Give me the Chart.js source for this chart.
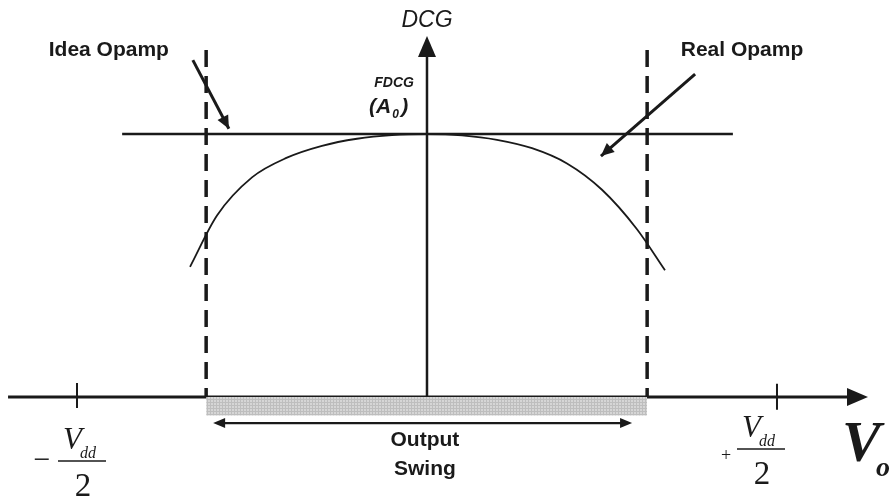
<!DOCTYPE html>
<html><head><meta charset="utf-8">
<script src="https://cdn.jsdelivr.net/npm/chart.js@4/dist/chart.umd.min.js"></script>
<style>html,body{margin:0;padding:0;background:#fff;overflow:hidden}canvas{display:block}</style>
</head><body>
<canvas id="c" width="890" height="503"></canvas>
<script>
// ---- data (x in units of Vdd/2, y in units of A0) ----
const curveX = [-0.677,-0.6,-0.5,-0.4,-0.3,-0.2,-0.1,0,0.1,0.2,0.3,0.4,0.5,0.6,0.68];
const curveY = [0.495,0.690,0.835,0.910,0.955,0.982,0.996,1,0.995,0.978,0.946,0.888,0.788,0.638,0.482];
const idealGain = 1;
const idealSpan = [-0.871, 0.874];
const swingEdges = [-0.631, 0.629];
const supplyTicks = [-1, 1];
const tickLabels = ['−', '+'];
const xAxisSpan = [-1.197, 1.26];
const yAxisTop = 1.373;
const dashTop = 1.319;
const bandDepth = -0.07;
const swingArrowY = -0.099;
const swingArrowSpan = [-0.611, 0.586];
const callouts = [
  {text:'Idea Opamp', label:[-0.909,1.318], from:[-0.669,1.281], to:[-0.566,1.020]},
  {text:'Real Opamp', label:[0.90,1.318],  from:[0.766,1.228],  to:[0.497,0.916]}
];

const INK = '#1a1a1a';
const pts = (xs, ys) => xs.map((x,i)=>({x, y: ys[i]}));
const seg = (x1,y1,x2,y2)=>[{x:x1,y:y1},{x:x2,y:y2}];
const base = {pointRadius:0, borderColor:INK, fill:false, showLine:true, tension:0};

function bandPattern(){
  const c=document.createElement('canvas'); c.width=3; c.height=3;
  const g=c.getContext('2d');
  g.fillStyle='#d6d6d6'; g.fillRect(0,0,3,3);
  g.fillStyle='#bebebe'; g.fillRect(0,0,3,1); g.fillRect(0,0,1,3);
  return g.createPattern(c,'repeat');
}

const datasets = [
  {...base, data: seg(swingEdges[0], bandDepth, swingEdges[1], bandDepth), borderWidth:0, fill:{value:0}, backgroundColor:bandPattern()},
  {...base, data: seg(xAxisSpan[0],0,xAxisSpan[1]-0.03,0), borderWidth:3},
  {...base, data: seg(0,0,0,yAxisTop-0.04), borderWidth:2.5},
  {...base, data: seg(idealSpan[0],idealGain,idealSpan[1],idealGain), borderWidth:2.5},
  {...base, data: pts(curveX, curveY), borderWidth:1.8, cubicInterpolationMode:'monotone'},
  {...base, data: seg(swingEdges[0],dashTop,swingEdges[0],0), borderWidth:3.5, borderDash:[17,9]},
  {...base, data: seg(swingEdges[1],dashTop,swingEdges[1],0), borderWidth:3.5, borderDash:[17,9]},
  {...base, data: seg(supplyTicks[0],0.053,supplyTicks[0],-0.042), borderWidth:2},
  {...base, data: seg(supplyTicks[1],0.05,supplyTicks[1],-0.048), borderWidth:2},
  {...base, data: seg(swingArrowSpan[0]+0.02,swingArrowY,swingArrowSpan[1]-0.02,swingArrowY), borderWidth:2.2},
  ...callouts.map(c=>({...base, data: seg(c.from[0],c.from[1],c.to[0],c.to[1]), borderWidth:3}))
];

function head(ctx,x1,y1,x2,y2,len,half){
  const a=Math.atan2(y2-y1,x2-x1), c=Math.cos(a), s=Math.sin(a);
  ctx.beginPath();
  ctx.moveTo(x2,y2);
  ctx.lineTo(x2-len*c+half*s, y2-len*s-half*c);
  ctx.lineTo(x2-len*c-half*s, y2-len*s+half*c);
  ctx.closePath(); ctx.fill();
}

const decor = {
  id:'decor',
  afterDatasetsDraw(chart){
    const ctx=chart.ctx, X=chart.scales.x, Y=chart.scales.y;
    const px=v=>X.getPixelForValue(v), py=v=>Y.getPixelForValue(v);
    ctx.save();
    ctx.fillStyle=INK; ctx.strokeStyle=INK;
    // axis arrowheads
    head(ctx, px(0), py(0), px(0), py(yAxisTop), 21, 9);
    head(ctx, px(0), py(0), px(xAxisSpan[1]), py(0), 21, 9);
    // swing double arrow
    head(ctx, px(0), py(swingArrowY), px(swingArrowSpan[0]), py(swingArrowY), 12, 5);
    head(ctx, px(0), py(swingArrowY), px(swingArrowSpan[1]), py(swingArrowY), 12, 5);
    // callouts
    callouts.forEach(c=>{
      head(ctx, px(c.from[0]),py(c.from[1]),px(c.to[0]),py(c.to[1]),13,6);
      ctx.font='bold 21px "Liberation Sans", Arial, sans-serif';
      ctx.textAlign='center'; ctx.textBaseline='middle';
      ctx.fillText(c.text, px(c.label[0]), py(c.label[1]), 130);
    });
    // DCG
    ctx.textAlign='center'; ctx.textBaseline='middle';
    ctx.font='italic 23px "Liberation Sans", Arial, sans-serif';
    ctx.fillText('DCG', px(0), py(1.433));
    ctx.font='bold italic 14px "Liberation Sans", Arial, sans-serif';
    ctx.fillText('FDCG', px(-0.094), py(1.194));
    // (A0)
    ctx.textAlign='left'; ctx.textBaseline='alphabetic';
    ctx.font='bold italic 21px "Liberation Sans", Arial, sans-serif';
    let ax=px(-0.097)-24, ay=py(1.106)+7;
    ctx.fillText('(A', ax, ay);
    let w=ctx.measureText('(A').width;
    ctx.font='bold italic 12px "Liberation Sans", Arial, sans-serif';
    ctx.fillText('0', ax+w+1, ay+5);
    ctx.font='bold italic 21px "Liberation Sans", Arial, sans-serif';
    ctx.fillText(')', ax+w+10, ay);
    // Output Swing
    ctx.textAlign='center'; ctx.textBaseline='middle';
    ctx.font='bold 21px "Liberation Sans", Arial, sans-serif';
    ctx.fillText('Output', px(-0.006), py(-0.163));
    ctx.fillText('Swing', px(-0.006), py(-0.274));
    // supply fractions
    const frac=(cx, barY, sign, signX, signY, signSize)=>{
      ctx.textBaseline='alphabetic';
      ctx.lineWidth=1.6;
      ctx.beginPath(); ctx.moveTo(cx-24,barY); ctx.lineTo(cx+24,barY); ctx.stroke();
      ctx.font='italic 31px "Liberation Serif", "Times New Roman", serif';
      ctx.textAlign='left';
      ctx.fillText('V', cx-19, barY-12);
      ctx.font='italic 16px "Liberation Serif", "Times New Roman", serif';
      ctx.fillText('dd', cx-2, barY-3);
      ctx.font='33px "Liberation Serif", "Times New Roman", serif';
      ctx.textAlign='center';
      ctx.fillText('2', cx+1, barY+35);
      ctx.font=signSize+'px "Liberation Serif", "Times New Roman", serif';
      ctx.textBaseline='middle';
      ctx.fillText(sign, signX, signY);
    };
    frac(82, 461, tickLabels[0], 42, 461, 30);
    frac(761, 449, tickLabels[1], 726, 456, 18);
    // V_o
    ctx.textAlign='left'; ctx.textBaseline='alphabetic';
    ctx.font='bold italic 58px "Liberation Serif", "Times New Roman", serif';
    ctx.fillText('V', 842, 461);
    ctx.font='bold italic 28px "Liberation Serif", "Times New Roman", serif';
    ctx.fillText('o', 876, 476);
    ctx.restore();
  }
};

new Chart(document.getElementById('c'), {
  type:'line',
  data:{datasets},
  options:{
    responsive:false, animation:false, events:[],
    layout:{padding:0},
    plugins:{legend:{display:false}, tooltip:{enabled:false}},
    scales:{
      x:{type:'linear', min:-1.22, max:1.3229, display:false},
      y:{type:'linear', min:-0.403, max:1.5095, display:false}
    }
  },
  plugins:[decor]
});
</script>
</body></html>
